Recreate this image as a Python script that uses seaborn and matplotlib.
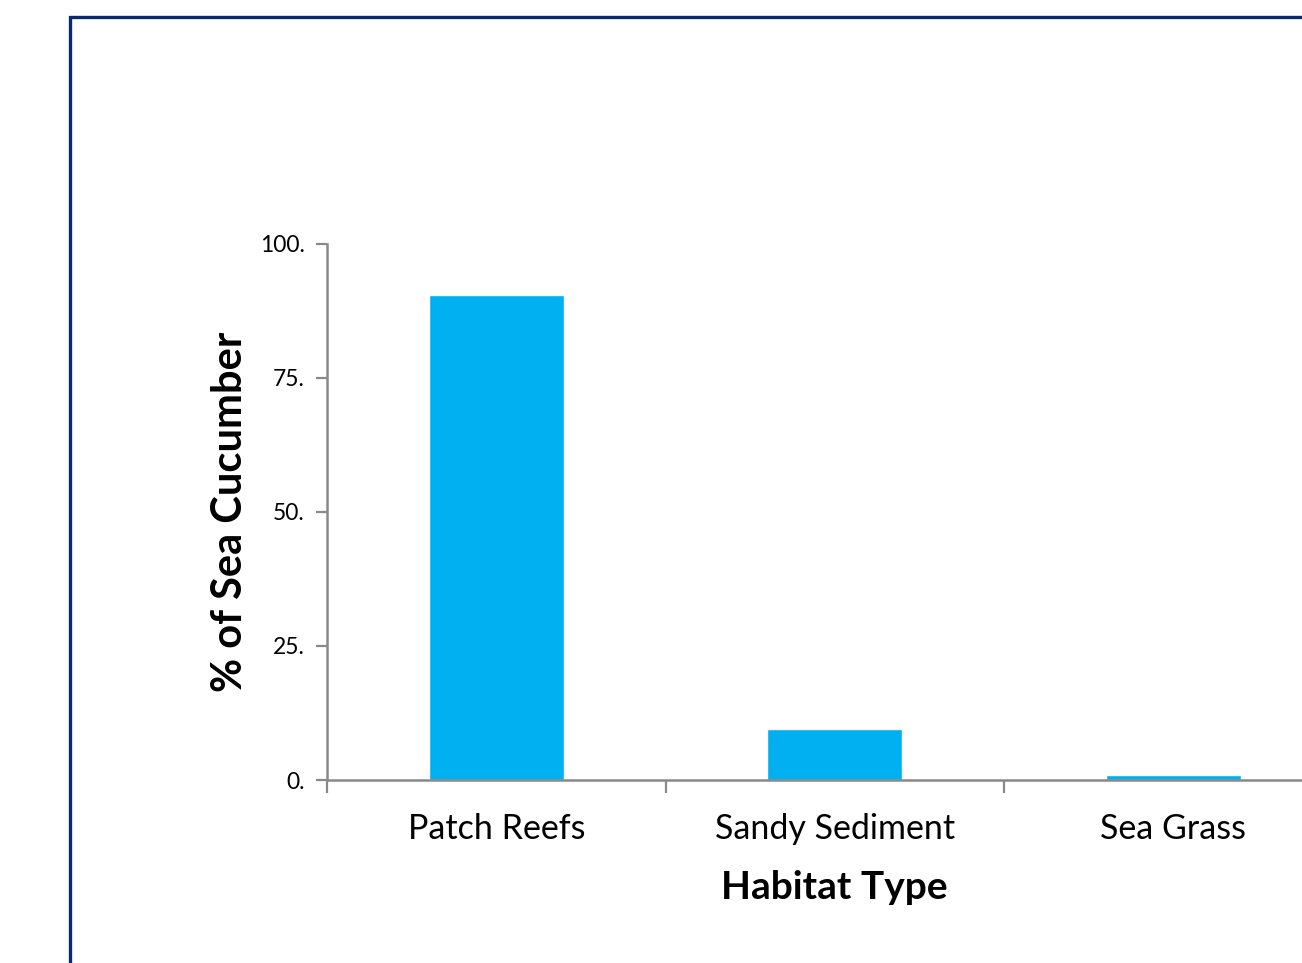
import matplotlib
matplotlib.use("Agg")
import matplotlib.pyplot as plt
from matplotlib.patches import Rectangle
import seaborn as sns
import pandas as pd

# Habitat survey results
habitats = ["Patch Reefs", "Sandy Sediment", "Sea Grass"]
percent_cucumber = [90.5, 9.5, 0.9]
y_ticks = [0, 25, 50, 75, 100]
y_tick_labels = ["0.", "25.", "50.", "75.", "100."]

sns.set_theme(style="white")
plt.rcParams["font.family"] = ["Lato", "DejaVu Sans"]
plt.rcParams["text.color"] = "black"
plt.rcParams["axes.labelcolor"] = "black"
plt.rcParams["xtick.labelcolor"] = "black"
plt.rcParams["ytick.labelcolor"] = "black"

df = pd.DataFrame({"Habitat": habitats, "Percent": percent_cucumber})

W, H = 1302, 963
fig = plt.figure(figsize=(W / 100, H / 100), dpi=100)
fig.patch.set_facecolor("white")

# Axes box spans three category slots; the last one runs past the right edge
slot = 338.5
left_px, right_px = 327, 327 + 3 * slot
top_px, bottom_px = 244, 780
ax = fig.add_axes([left_px / W, 1 - bottom_px / H,
                   (right_px - left_px) / W, (bottom_px - top_px) / H])

sns.barplot(data=df, x="Habitat", y="Percent", color="#00B0F0",
            saturation=1, width=0.4, ax=ax)

ax.set_xlim(-0.5, 2.5)
ax.set_ylim(0, 100)
ax.set_yticks(y_ticks)
ax.set_yticklabels(y_tick_labels, fontsize=16.5)
ax.set_xticks([-0.5, 0.5, 1.5], minor=False)
ax.set_xticklabels([])
ax.set_xticks([0, 1, 2], minor=True)
ax.set_xticklabels(habitats, minor=True, fontsize=24.5)
ax.tick_params(axis="x", which="major", length=9, width=1.6,
               color="#898989", direction="out", bottom=True)
ax.tick_params(axis="x", which="minor", length=0, pad=24, bottom=True)
ax.tick_params(axis="y", length=8, width=1.6, color="#898989",
               direction="out", left=True, pad=8)

for side in ["top", "right"]:
    ax.spines[side].set_visible(False)
for side in ["left", "bottom"]:
    ax.spines[side].set_color("#898989")
    ax.spines[side].set_linewidth(1.8)

ax.set_xlabel("Habitat Type", fontsize=28, fontweight="bold", labelpad=18)
ax.set_ylabel("% of Sea Cucumber", fontsize=30, fontweight="bold", labelpad=8)
ax.grid(False)

# Outer frame around the chart area
fig.patches.append(Rectangle((70 / W, -0.1), 2.0, (H - 17) / H + 0.1,
                             transform=fig.transFigure, fill=False,
                             edgecolor="#0B2A6B", linewidth=2.4, zorder=10))

fig.savefig("out.png", dpi=100, facecolor="white")
